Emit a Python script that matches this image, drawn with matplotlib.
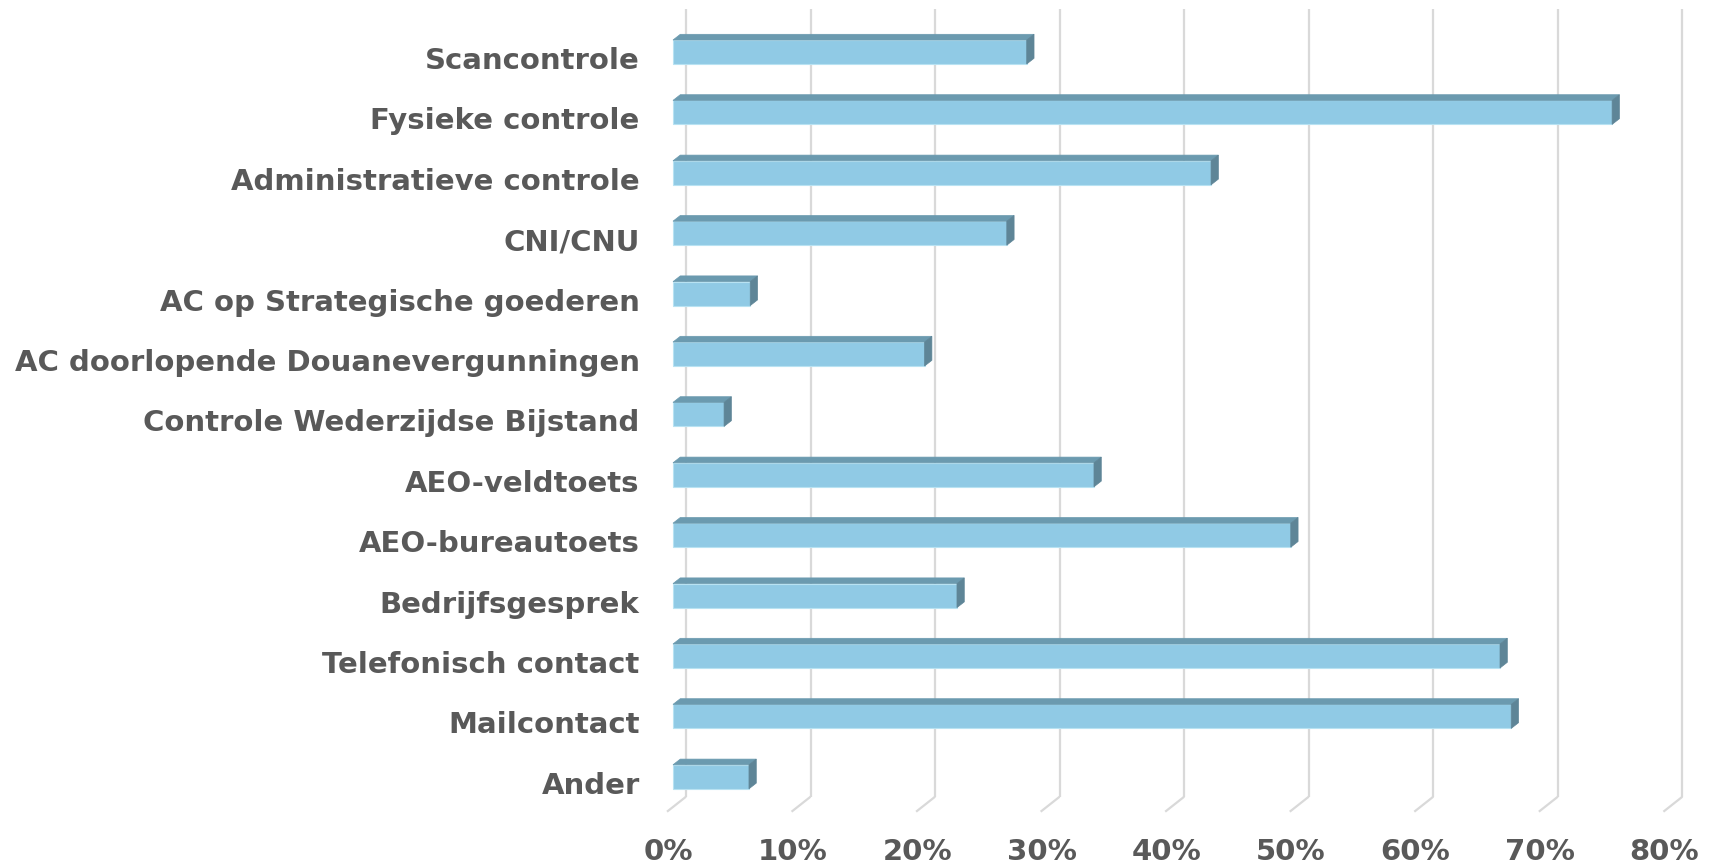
import numpy as np
import matplotlib
matplotlib.use("Agg")
import matplotlib.pyplot as plt
from matplotlib.patches import Polygon
from matplotlib.font_manager import FontProperties
import matplotlib.transforms as mtransforms

# Data (share of respondents)
categories = [
    "Scancontrole",
    "Fysieke controle",
    "Administratieve controle",
    "CNI/CNU",
    "AC op Strategische goederen",
    "AC doorlopende Douanevergunningen",
    "Controle Wederzijdse Bijstand",
    "AEO-veldtoets",
    "AEO-bureautoets",
    "Bedrijfsgesprek",
    "Telefonisch contact",
    "Mailcontact",
    "Ander",
]
values = [0.284, 0.754, 0.432, 0.268, 0.062, 0.202, 0.041, 0.338, 0.496, 0.228, 0.664, 0.673, 0.061]
x_ticks = [0.0, 0.1, 0.2, 0.3, 0.4, 0.5, 0.6, 0.7, 0.8]
x_tick_labels = ["0%", "10%", "20%", "30%", "40%", "50%", "60%", "70%", "80%"]

# Colours
FRONT = "#90CAE5"
TOP = "#6B9AAF"
SIDE = "#5E8597"
EDGE = "#B8E2F2"
GRID = "#D9D9D9"
TEXT = "#595959"

W, H = 1711, 866
fig = plt.figure(figsize=(W / 100, H / 100), dpi=100)
# axes = front plane of the bars (pixel layout of the reference)
ax_left, ax_right = 673, 1669.4
ax_top, ax_bottom = 21.8, 807.0
ax = fig.add_axes([ax_left / W, 1 - ax_bottom / H,
                   (ax_right - ax_left) / W, (ax_bottom - ax_top) / H])
ax.set_xlim(0, 0.8)
ax.set_ylim(12.5, -0.5)
for s in ax.spines.values():
    s.set_visible(False)

# pixel -> data unit conversion for the fake 3D depth
px_x = 0.8 / (ax_right - ax_left)
px_y = 13.0 / (ax_bottom - ax_top)

bar_h = 24 * px_y
bdx, bdy = 7.3 * px_x, 5.7 * px_y      # bar depth
wdx, wdy = 13 * px_x, 10.3 * px_y      # back wall offset
fdx, fdy = 6 * px_x, 4.7 * px_y        # floor front offset
y_floor = 12.5
y_wall_top = -0.712

# back wall gridlines + floor lines
for t in x_ticks:
    ax.plot([t + wdx, t + wdx], [y_wall_top, y_floor - wdy], color=GRID, lw=1.6,
            clip_on=False, zorder=1, solid_capstyle="butt")
    ax.plot([t + wdx, t - fdx], [y_floor - wdy, y_floor + fdy], color=GRID, lw=1.6,
            clip_on=False, zorder=1, solid_capstyle="butt")

y = np.arange(len(categories))
ax.barh(y, values, height=bar_h, color=FRONT, edgecolor=EDGE, linewidth=0.8,
        zorder=3, clip_on=False)

for yi, v in zip(y, values):
    top_y = yi - bar_h / 2
    bot_y = yi + bar_h / 2
    top = Polygon([(0, top_y), (v, top_y), (v + bdx, top_y - bdy), (bdx, top_y - bdy)],
                  closed=True, facecolor=TOP, edgecolor=TOP, lw=0.5, zorder=3, clip_on=False)
    side = Polygon([(v, top_y), (v + bdx, top_y - bdy), (v + bdx, bot_y - bdy), (v, bot_y)],
                   closed=True, facecolor=SIDE, edgecolor=SIDE, lw=0.5, zorder=3, clip_on=False)
    ax.add_patch(top)
    ax.add_patch(side)

fp = FontProperties(family="DejaVu Sans", weight="bold", size=21)

ax.set_yticks(y, categories)
ax.set_xticks(x_ticks, x_tick_labels)
ax.tick_params(axis="both", length=0)
ax.tick_params(axis="y", pad=24)
ax.tick_params(axis="x", pad=22)
for lab in ax.get_yticklabels():
    lab.set_fontproperties(fp)
    lab.set_color(TEXT)
    lab.set_transform(lab.get_transform() + mtransforms.ScaledTranslation(0, -6 / 100, fig.dpi_scale_trans))
for lab in ax.get_xticklabels():
    lab.set_fontproperties(fp)
    lab.set_color(TEXT)
    lab.set_transform(lab.get_transform() + mtransforms.ScaledTranslation(-5 / 100, 0, fig.dpi_scale_trans))

fig.savefig("out.png", dpi=100, facecolor="white")
